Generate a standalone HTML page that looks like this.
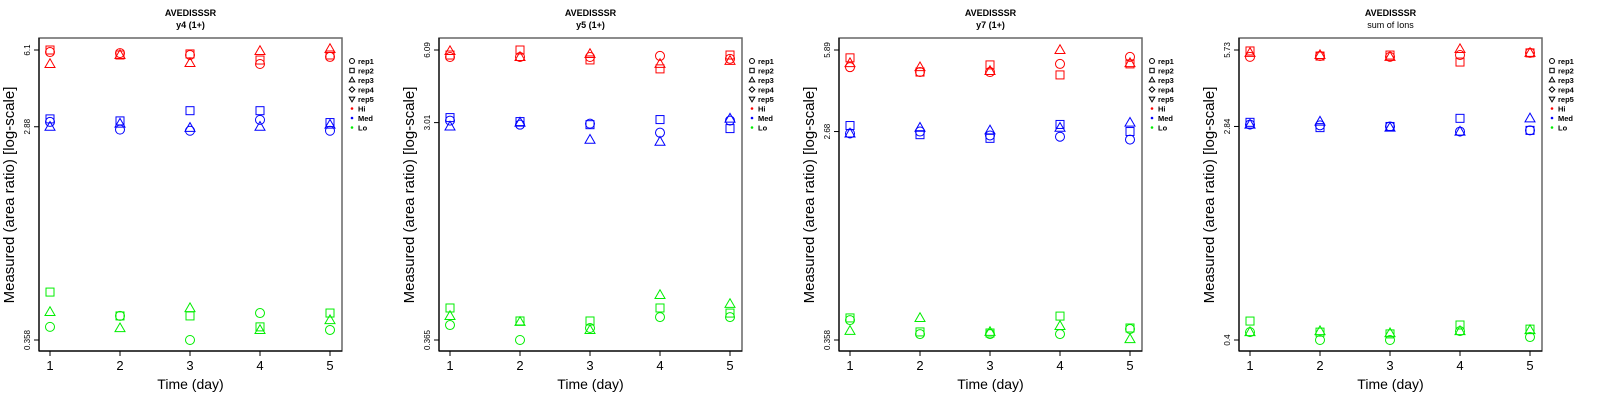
<!DOCTYPE html>
<html><head><meta charset="utf-8">
<style>
html,body{margin:0;padding:0;background:#fff;}
svg{display:block;font-family:"Liberation Sans",Arial,sans-serif;}
</style></head>
<body>
<svg id="chart" width="1600" height="400" viewBox="0 0 1600 400" xmlns="http://www.w3.org/2000/svg"></svg>
<script>
const days = [1,2,3,4,5];
const panelTitles = ["y4 (1+)","y5 (1+)","y7 (1+)","sum of Ions"];
const yTickTop = [6.1, 6.09, 5.89, 5.73];
const yTickMid = [2.88, 3.01, 2.68, 2.84];
const yTickBot = [0.358, 0.365, 0.358, 0.4];
const yTickLabels = [["6.1","2.88","0.358"],["6.09","3.01","0.365"],["5.89","2.68","0.358"],["5.73","2.84","0.4"]];
// values per panel: [level][rep][day], reps: rep1 circle, rep2 square, rep3 triangle
const p1Hi  = [[5.98,5.92,5.81,5.32,5.70],[6.10,5.81,5.87,5.53,5.81],[5.32,5.81,5.37,6.04,6.16]];
const p1Med = [[3.02,2.80,2.77,3.08,2.77],[3.11,3.05,3.37,3.37,3.00],[2.88,2.97,2.85,2.88,2.94]];
const p1Lo  = [[0.407,0.453,0.358,0.466,0.395],[0.572,0.453,0.453,0.407,0.466],[0.471,0.402,0.489,0.395,0.435]];
const p2Hi  = [[5.69,5.69,5.69,5.75,5.59],[5.80,6.09,5.53,5.07,5.80],[6.03,5.69,5.86,5.32,5.48]];
const p2Med = [[3.07,2.95,2.98,2.73,3.07],[3.16,3.04,2.95,3.10,2.84],[2.90,3.01,2.55,2.50,3.13]];
const p2Lo  = [[0.422,0.365,0.410,0.456,0.456],[0.498,0.439,0.439,0.498,0.474],[0.461,0.435,0.402,0.565,0.518]];
const p3Hi  = [[4.99,4.76,4.76,5.15,5.51],[5.46,4.76,5.10,4.63,5.15],[5.19,4.99,4.81,5.89,5.19]];
const p3Med = [[2.63,2.68,2.58,2.55,2.48],[2.84,2.60,2.51,2.87,2.68],[2.63,2.78,2.71,2.78,2.92]];
const p3Lo  = [[0.434,0.379,0.379,0.379,0.398],[0.443,0.387,0.383,0.451,0.402],[0.391,0.443,0.387,0.410,0.361]];
const p4Hi  = [[5.38,5.42,5.38,5.47,5.58],[5.68,5.42,5.47,5.13,5.58],[5.58,5.47,5.38,5.78,5.58]];
const p4Med = [[2.89,2.87,2.84,2.71,2.74],[2.95,2.81,2.84,3.06,2.74],[2.89,2.97,2.81,2.71,3.06]];
const p4Lo  = [[0.430,0.400,0.400,0.434,0.411],[0.476,0.430,0.423,0.459,0.442],[0.430,0.434,0.426,0.434,0.438]];
const panelData = [[p1Hi,p1Med,p1Lo],[p2Hi,p2Med,p2Lo],[p3Hi,p3Med,p3Lo],[p4Hi,p4Med,p4Lo]];
const levelNames = ["Hi","Med","Lo"];
const levelColors = ["#ff0000","#0000ff","#00ee00"];
const repNames = ["rep1","rep2","rep3","rep4","rep5"];

const NS = "http://www.w3.org/2000/svg";
const svg = document.getElementById("chart");
function mk(tag, attrs, parent){
  const e = document.createElementNS(NS, tag);
  for (const k in attrs) e.setAttribute(k, attrs[k]);
  parent.appendChild(e); return e;
}
function marker(shape, cx, cy, color, parent, s){
  let e;
  if (shape===0){ e = mk("circle",{cx:cx,cy:cy,r:4.5*s,fill:"none",stroke:color,"stroke-width":1},parent); }
  else if (shape===1){ e = mk("rect",{x:cx-4*s,y:cy-4*s,width:8*s,height:8*s,fill:"none",stroke:color,"stroke-width":1},parent); }
  else if (shape===2){ e = mk("polygon",{points:`${cx},${cy-5.2*s} ${cx-5*s},${cy+3.5*s} ${cx+5*s},${cy+3.5*s}`,fill:"none",stroke:color,"stroke-width":1},parent); }
  else if (shape===3){ e = mk("polygon",{points:`${cx},${cy-5*s} ${cx+5*s},${cy} ${cx},${cy+5*s} ${cx-5*s},${cy}`,fill:"none",stroke:color,"stroke-width":1},parent); }
  else { e = mk("polygon",{points:`${cx},${cy+5.2*s} ${cx-5*s},${cy-3.5*s} ${cx+5*s},${cy-3.5*s}`,fill:"none",stroke:color,"stroke-width":1},parent); }
  return e;
}

for (let p=0;p<4;p++){
  const ox = p*400;
  const g = mk("g",{transform:`translate(${ox},0)`},svg);
  
  
  const L=39,R=342,T=38,B=351;
  const top=yTickTop[p], bot=yTickBot[p];
  const yScale = v => 50 + (Math.log(top)-Math.log(v))/(Math.log(top)-Math.log(bot))*290;
  const xScale = d => 50 + (d-1)*70;

  const frame = mk("rect",{x:L,y:T,width:R-L,height:B-T,fill:"none",stroke:"#666","stroke-width":1.5},g);
  
  
  mk("line",{x1:L,y1:B,x2:R,y2:B,stroke:"#000","stroke-width":1.2},g);
  mk("line",{x1:L,y1:T,x2:L,y2:B,stroke:"#000","stroke-width":1.2},g);

  const t1 = mk("text",{x:190.5,y:16,"text-anchor":"middle","font-size":"9","font-weight":"bold"},g);
  t1.textContent = "AVEDISSSR";
  
  
  const t2 = mk("text",{x:190.5,y:28,"text-anchor":"middle","font-size":"9","font-weight":p===3?"normal":"bold"},g);
  t2.textContent = panelTitles[p];
  
  

  // y ticks
  const tv = [yTickTop[p], yTickMid[p], yTickBot[p]];
  tv.forEach((v,i)=>{
    const y = yScale(v);
    mk("line",{x1:L-5,y1:y,x2:L,y2:y,stroke:"#000","stroke-width":1},g);
    const tl = mk("text",{x:0,y:0,transform:`translate(30,${y}) rotate(-90)`,"text-anchor":"middle","font-size":"8"},g);
    tl.textContent = yTickLabels[p][i];
    
    
  });
  const yt = mk("text",{x:0,y:0,transform:`translate(14,195) rotate(-90)`,"text-anchor":"middle","font-size":"15"},g);
  yt.textContent = "Measured (area ratio) [log-scale]";
  
  

  // x ticks
  days.forEach(d=>{
    const x = xScale(d);
    mk("line",{x1:x,y1:B,x2:x,y2:B+5,stroke:"#000","stroke-width":1},g);
    const xl = mk("text",{x:x,y:370,"text-anchor":"middle","font-size":"13"},g);
    xl.textContent = String(d);
    
    
  });
  const xt = mk("text",{x:190.5,y:389,"text-anchor":"middle","font-size":"14"},g);
  xt.textContent = "Time (day)";
  
  

  // points
  const data = panelData[p];
  for (let lv=0; lv<3; lv++){
    for (let r=0; r<data[lv].length; r++){
      for (let di=0; di<days.length; di++){
        const m = marker(r, xScale(days[di]), yScale(data[lv][r][di]), levelColors[lv], g, 1);
        
        
      }
    }
  }

  // legend
  const lg = mk("g",{},g);
  
  
  const rows = repNames.concat(levelNames);
  rows.forEach((name,i)=>{
    const y = 61 + i*9.5;
    if (i<5) { marker(i, 352, y, "#000", lg, 0.55); }
    else { mk("circle",{cx:352,cy:y,r:1.3,fill:levelColors[i-5]},lg); }
    const lt = mk("text",{x:358,y:y+3,"font-size":"7.5","font-weight":"bold"},lg);
    lt.textContent = name;
    
    
  });
}
</script>
</body></html>
